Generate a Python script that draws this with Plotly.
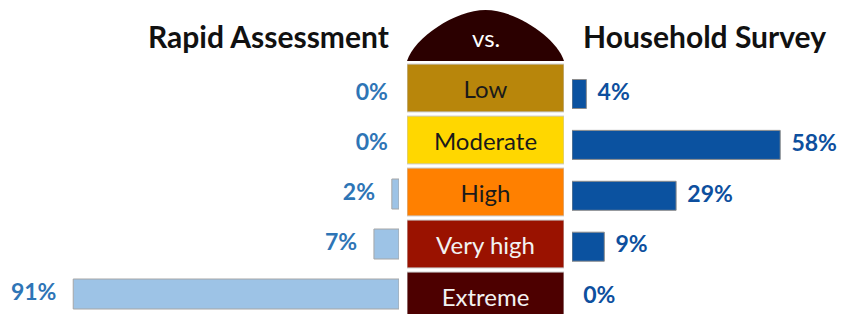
import plotly.graph_objects as go

categories = ["Low", "Moderate", "High", "Very high", "Extreme"]
rapid_assessment = [0, 0, 2, 7, 91]
household_survey = [4, 58, 29, 9, 0]
box_colors = ["#B8860B", "#FFD700", "#FF8000", "#9A1200", "#4D0000"]
box_text_colors = ["#1a1a1a", "#1a1a1a", "#1a1a1a", "#F2F2F2", "#F2F2F2"]

# The page body adds an 8px margin; size the figure to fill the 846x314 window.
OFF = 8
W, H = 846 - OFF, 314 - OFF
FONT = "Lato"
NB = "\u00a0"


def px_x(p):
    return (p - OFF) / W


def px_y(p):
    return 1 - (p - OFF) / H


def y_range(center0, step):
    top = (center0 - OFF) / step
    return [H / step - top, -top]


fig = go.Figure()

# Left bars (Rapid Assessment)
fig.add_trace(go.Bar(
    y=categories, x=rapid_assessment, orientation="h",
    xaxis="x", yaxis="y", width=0.6,
    marker=dict(color="#9DC3E6",
                line=dict(color="#A6A6A6", width=[1 if v else 0 for v in rapid_assessment])),
    hoverinfo="skip",
))
fig.add_trace(go.Scatter(
    y=categories, x=rapid_assessment, mode="text",
    xaxis="x", yaxis="y",
    text=[f"{v}%" + (NB * 3 if v else NB * 2) for v in rapid_assessment],
    textposition="middle left",
    textfont=dict(family=FONT, size=23, color="#2E75B6", weight="bold"),
    cliponaxis=False, hoverinfo="skip",
))

# Right bars (Household Survey)
fig.add_trace(go.Bar(
    y=categories, x=household_survey, orientation="h",
    xaxis="x2", yaxis="y2", width=0.57,
    marker=dict(color="#0B52A0",
                line=dict(color="#8C8C8C", width=[1 if v else 0 for v in household_survey])),
    hoverinfo="skip",
))
fig.add_trace(go.Scatter(
    y=categories, x=household_survey, mode="text",
    xaxis="x2", yaxis="y2",
    text=[NB * 2 + f"{v}%" for v in household_survey], textposition="middle right",
    textfont=dict(family=FONT, size=23, color="#0D4F9E", weight="bold"),
    cliponaxis=False, hoverinfo="skip",
))

# Central category boxes
fig.add_trace(go.Bar(
    y=categories, x=[1] * len(categories), orientation="h",
    xaxis="x3", yaxis="y3", width=0.92,
    marker=dict(color=box_colors, line=dict(color="#C9C9C9", width=1)),
    text=categories, textposition="inside", insidetextanchor="middle",
    textfont=dict(family=FONT, size=24, color=box_text_colors),
    constraintext="none", hoverinfo="skip",
))

common_y = dict(type="category", categoryarray=categories, showticklabels=False,
                showgrid=False, zeroline=False, showline=False, domain=[0, 1])
common_x = dict(showticklabels=False, showgrid=False, zeroline=False, showline=False)

fig.update_layout(
    width=W, height=H,
    margin=dict(l=0, r=0, t=0, b=0),
    paper_bgcolor="white", plot_bgcolor="rgba(0,0,0,0)",
    showlegend=False, barmode="overlay",
    # scale: about 3.58 px per percentage point on both sides
    xaxis=dict(**common_x, domain=[0, px_x(399)], range=[(399 - OFF) / 3.58, 0], anchor="y"),
    yaxis=dict(**common_y, range=y_range(94, 50), anchor="x"),
    xaxis2=dict(**common_x, domain=[px_x(572), 1], range=[0, (846 - 572) / 3.59], anchor="y2"),
    yaxis2=dict(**common_y, range=y_range(94, 50.9), anchor="x2", overlaying="y"),
    xaxis3=dict(**common_x, domain=[px_x(407), px_x(564)], range=[0, 1], anchor="y3"),
    yaxis3=dict(**common_y, range=y_range(88, 52), anchor="x3", overlaying="y"),
)

# Dome ("vs.") above the boxes
x0, x1, xm = px_x(407), px_x(564), px_x(485.5)
yb, yt = px_y(61), px_y(10)
c1x, c2x = px_x(414), px_x(455)
c1y = px_y(38)
d1, d2 = xm - c1x, xm - c2x
path = (f"M {x0} {yb} C {c1x} {c1y} {c2x} {yt} {xm} {yt} "
        f"C {xm + d2} {yt} {xm + d1} {c1y} {x1} {yb} Z")
fig.add_shape(type="path", path=path, xref="paper", yref="paper",
              fillcolor="#2B0000", line=dict(width=0), layer="above")

fig.add_annotation(text="vs.", x=xm, y=px_y(38), xref="paper", yref="paper",
                   showarrow=False, xanchor="center", yanchor="middle",
                   font=dict(family=FONT, size=24, color="white"))
fig.add_annotation(text="Rapid Assessment", x=px_x(391), y=px_y(36), xref="paper", yref="paper",
                   showarrow=False, xanchor="right", yanchor="middle",
                   font=dict(family=FONT, size=30, color="#111111", weight="bold"))
fig.add_annotation(text="Household Survey", x=px_x(581), y=px_y(36), xref="paper", yref="paper",
                   showarrow=False, xanchor="left", yanchor="middle",
                   font=dict(family=FONT, size=30, color="#111111", weight="bold"))

fig.write_html("out.html")
